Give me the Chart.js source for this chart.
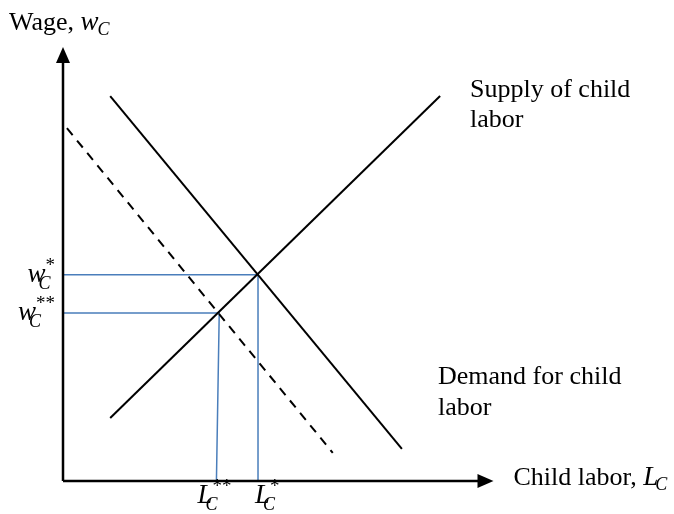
<!DOCTYPE html>
<html>
<head>
<meta charset="utf-8">
<script src="https://cdn.jsdelivr.net/npm/chart.js@4.4.1/dist/chart.umd.min.js"></script>
<style>
html,body{margin:0;padding:0;background:#fff;}
#wrap{width:674px;height:514px;position:relative;}
</style>
</head>
<body>
<div id="wrap"><canvas id="c" width="674" height="514"></canvas></div>
<script>
// Curve data (in abstract units: labour on x, wage on y)
const supplyX = [0.84, 6.71];
const supplyY = [1.45, 8.87];
const demandX = [0.84, 6.03];
const demandY = [8.87, 0.74];
const demandLowX = [0.07, 4.80];
const demandLowY = [8.13, 0.65];
// Equilibria
const eqX = [3.47, 2.78];      // L*, L**
const eqY = [4.75, 3.87];      // w*, w**
const eqFootX = [3.47, 2.73];  // where the drop lines meet the x axis
// Tick labels: base letter, superscript
const yTickLabels = [['w', '*'], ['w', '**']];
const xTickLabels = [['L', '*'], ['L', '**']];
const AXIS_X_END = 7.66;   // x-axis arrow tip (in x units)

const BLACK = '#000000';
const BLUE = '#4a7ebb';
const SERIF = '"Liberation Serif", "Times New Roman", serif';

function pts(xs, ys){ return xs.map((x,i)=>({x:x, y:ys[i]})); }

const datasets = [
  {data: pts(supplyX, supplyY), borderColor: BLACK, borderWidth: 2},
  {data: pts(demandX, demandY), borderColor: BLACK, borderWidth: 2},
  {data: pts(demandLowX, demandLowY), borderColor: BLACK, borderWidth: 2, borderDash: [9, 7]},
  {data: [{x:0, y:eqY[0]}, {x:eqX[0], y:eqY[0]}, {x:eqFootX[0], y:0}], borderColor: BLUE, borderWidth: 1.5},
  {data: [{x:0, y:eqY[1]}, {x:eqX[1], y:eqY[1]}, {x:eqFootX[1], y:0}], borderColor: BLUE, borderWidth: 1.5}
].map(d => Object.assign({showLine: true, pointRadius: 0, fill: false, tension: 0}, d));

function drawRich(ctx, x, y, parts){
  let cx = x;
  for(const p of parts){
    if(p.stack){
      ctx.font = p.supFont; ctx.fillText(p.sup, cx + (p.supDx||0), y - p.supDy);
      const w1 = ctx.measureText(p.sup).width + (p.supDx||0);
      ctx.font = p.subFont; ctx.fillText(p.sub, cx + (p.subDx||0), y + p.subDy);
      const w2 = ctx.measureText(p.sub).width + (p.subDx||0);
      cx += Math.max(w1, w2);
    } else {
      ctx.font = p.font;
      cx += (p.dx||0);
      ctx.fillText(p.t, cx, y + (p.dy||0));
      cx += ctx.measureText(p.t).width;
    }
  }
  return cx;
}
function richWidth(ctx, parts){
  let w = 0;
  for(const p of parts){
    if(p.stack){
      ctx.font = p.supFont; const w1 = ctx.measureText(p.sup).width + (p.supDx||0);
      ctx.font = p.subFont; const w2 = ctx.measureText(p.sub).width + (p.subDx||0);
      w += Math.max(w1, w2);
    } else { ctx.font = p.font; w += ctx.measureText(p.t).width + (p.dx||0); }
  }
  return w;
}
const MATH = 'italic 27px ' + SERIF;
const SUB = 'italic 18px ' + SERIF;
const SUP = '19px ' + SERIF;
const TXT = '26px ' + SERIF;

function labelParts(base, sup){
  return [{font: MATH, t: base}, {stack: true, sup: sup, sub: 'C', supFont: SUP, subFont: SUB, supDx: 0, subDx: -7, supDy: 11, subDy: 7}];
}
// left offsets of the x tick labels relative to their drop lines (px)
const xLabelOffset = [-3, -19];

const overlay = {
  id: 'overlay',
  afterDatasetsDraw(chart){
    const ctx = chart.ctx;
    const xs = chart.scales.x, ys = chart.scales.y;
    const x0 = xs.getPixelForValue(0), y0 = ys.getPixelForValue(0);
    const yTop = ys.getPixelForValue(10), xRight = xs.getPixelForValue(AXIS_X_END);
    ctx.save();
    ctx.strokeStyle = BLACK; ctx.fillStyle = BLACK; ctx.lineWidth = 2.5;
    // axes
    ctx.beginPath();
    ctx.moveTo(x0, y0); ctx.lineTo(x0, yTop + 12);
    ctx.moveTo(x0, y0); ctx.lineTo(xRight - 12, y0);
    ctx.stroke();
    // arrowheads
    ctx.beginPath();
    ctx.moveTo(x0, yTop); ctx.lineTo(x0 - 7, yTop + 16); ctx.lineTo(x0 + 7, yTop + 16); ctx.closePath(); ctx.fill();
    ctx.beginPath();
    ctx.moveTo(xRight, y0); ctx.lineTo(xRight - 16, y0 - 7); ctx.lineTo(xRight - 16, y0 + 7); ctx.closePath(); ctx.fill();

    ctx.textBaseline = 'alphabetic';
    ctx.textAlign = 'left';
    // axis titles
    drawRich(ctx, 9, 30, [{font: TXT, t: 'Wage, '}, {font: MATH, t: 'w'}, {font: SUB, t: 'C', dy: 5, dx: -1}]);
    drawRich(ctx, xRight + 20, 485, [{font: TXT, t: 'Child labor, '}, {font: MATH, t: 'L'}, {font: SUB, t: 'C', dy: 5, dx: -3}]);
    // curve labels
    ctx.font = TXT;
    ctx.fillText('Supply of child', 470, 97);
    ctx.fillText('labor', 470, 127);
    ctx.fillText('Demand for child', 438, 384);
    ctx.fillText('labor', 438, 415);
    // tick labels on y
    for(let i=0;i<eqY.length;i++){
      const parts = labelParts(yTickLabels[i][0], yTickLabels[i][1]);
      const w = richWidth(ctx, parts);
      drawRich(ctx, x0 - 8 - w, ys.getPixelForValue(eqY[i]) + 7, parts);
    }
    // tick labels on x
    for(let i=0;i<eqFootX.length;i++){
      const parts = labelParts(xTickLabels[i][0], xTickLabels[i][1]);
      drawRich(ctx, xs.getPixelForValue(eqFootX[i]) + xLabelOffset[i], y0 + 22, parts);
    }
    ctx.restore();
  }
};

new Chart(document.getElementById('c'), {
  type: 'scatter',
  data: {datasets: datasets},
  options: {
    responsive: false,
    animation: false,
    layout: {padding: {left: 63, top: 47, right: 49, bottom: 33}},
    plugins: {legend: {display: false}, tooltip: {enabled: false}},
    scales: {
      x: {type: 'linear', min: 0, max: 10, display: false},
      y: {type: 'linear', min: 0, max: 10, display: false}
    }
  },
  plugins: [overlay]
});
</script>
</body>
</html>
